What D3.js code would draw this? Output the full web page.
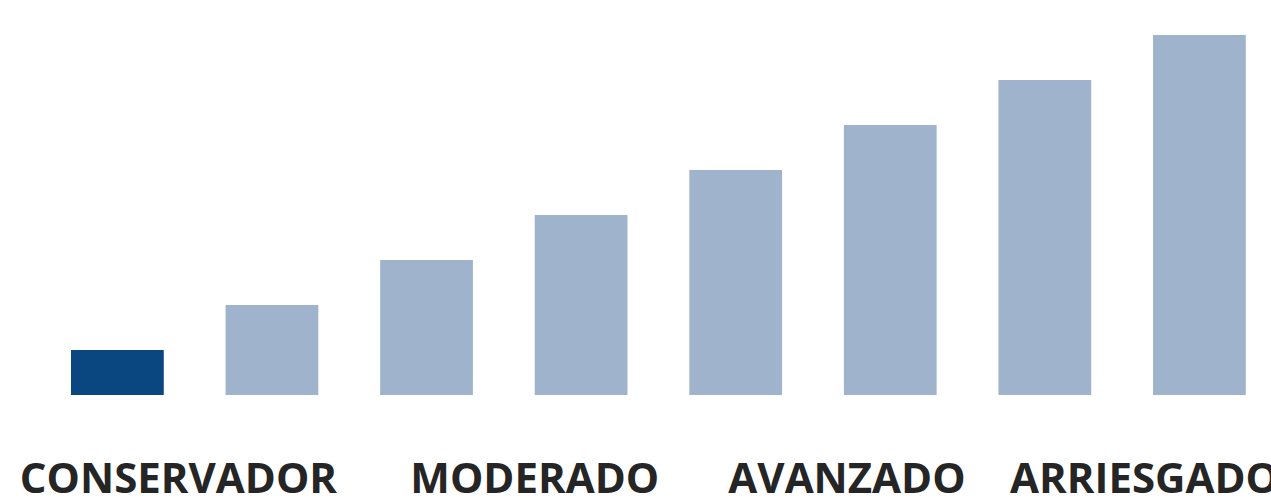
<!DOCTYPE html>
<html><head><meta charset="utf-8">
<script src="https://cdn.jsdelivr.net/npm/d3@7"></script>
<style>html,body{margin:0;padding:0;background:#fff;overflow:hidden}</style>
</head><body>
<svg id="c" width="1271" height="499"></svg>
<script>
const categories = ["1","2","3","4","5","6","7","8"];
const values = [1,2,3,4,5,6,7,8];
const highlight = [true,false,false,false,false,false,false,false];
const labels = ["CONSERVADOR","MODERADO","AVANZADO","ARRIESGADO"];
const labelPos = [0.395, 2.70, 4.72, 6.645];

const svg = d3.select("#c");
const W = 1271, H = 499;
const x = d3.scaleBand().domain(categories).range([40.1, 1276.7]).paddingInner(0.4).paddingOuter(0.2);
const y = d3.scaleLinear().domain([0, 8]).range([395, 35]);
const xi = d3.scaleLinear().domain([0, 7]).range([x(categories[0]) + x.bandwidth()/2, x(categories[7]) + x.bandwidth()/2]);

svg.selectAll("rect.bar").data(values).join("rect")
  .attr("class","bar")
  .attr("x",(d,i)=>x(categories[i]))
  .attr("width",x.bandwidth())
  .attr("y",d=>y(d))
  .attr("height",d=>y(0)-y(d))
  .attr("fill",(d,i)=>highlight[i] ? "#0a467f" : "#9fb4cc");

svg.selectAll("text.lab").data(labels).join("text")
  .attr("class","lab")
  .attr("x",(d,i)=>xi(labelPos[i]))
  .attr("y",492.5)
  .attr("text-anchor","middle")
  .attr("font-family","'Open Sans', sans-serif")
  .attr("font-weight",700)
  .attr("font-size",42)
  .attr("fill","#252525")
  .text(d=>d);
</script>
</body></html>
